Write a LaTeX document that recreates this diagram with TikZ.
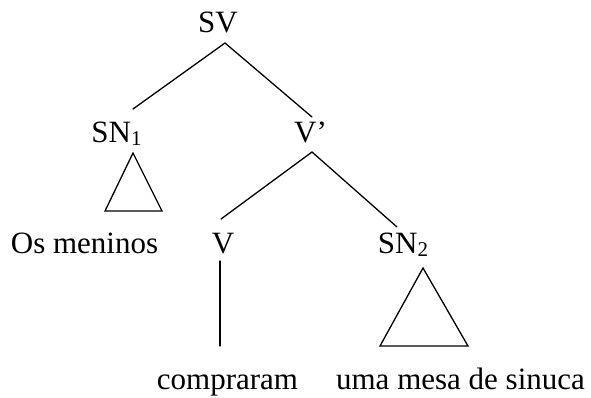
\documentclass[tikz,border=0pt]{standalone}
\usepackage{fontspec}
\setmainfont{Liberation Serif}
\newcommand{\mysub}[1]{\raisebox{-3pt}{\fontsize{21}{21}\selectfont #1}}
\begin{document}
\begin{tikzpicture}[x=1pt,y=-1pt,
  lbl/.style={anchor=base,inner sep=0pt,font=\fontsize{31}{36}\selectfont},
  edge/.style={line width=1.3pt,line cap=round,line join=miter}]
\useasboundingbox (0,0) rectangle (591,397);
% labels
\node[lbl] (sv) at (218,32) {SV};
\node[lbl] (sn1) at (116.5,142) {SN\mysub{1}};
\node[lbl] (vbar) at (310.5,142) {V’};
\node[lbl] (os) at (84.5,253) {Os meninos};
\node[lbl] (v) at (223,253) {V};
\node[lbl] (sn2) at (403,253) {SN\mysub{2}};
\node[lbl] (comp) at (227.5,389) {compraram};
\node[lbl] (uma) at (460.5,389) {uma mesa de sinuca};
% attachment points
\coordinate (svb) at (225,43);
\coordinate (sn1t) at (133,109);
\coordinate (vbart) at (312,117);
\coordinate (vbarb) at (312,152);
\coordinate (vt) at (221,219);
\coordinate (sn2t) at (397,227);
\coordinate (vb) at (220,261);
\coordinate (compt) at (220,346);
\coordinate (t1a) at (133,153);
\coordinate (t1l) at (105,211);
\coordinate (t1r) at (162,211);
\coordinate (t2a) at (423,268);
\coordinate (t2l) at (380,346);
\coordinate (t2r) at (468,346);
% edges
\draw[edge] (sn1t) -- (svb) -- (vbart);
\draw[edge] (vt) -- (vbarb) -- (sn2t);
\draw[edge] (vb) -- (compt);
\draw[edge] (t1a) -- (t1l) -- (t1r) -- cycle;
\draw[edge] (t2a) -- (t2l) -- (t2r) -- cycle;
\end{tikzpicture}
\end{document}
